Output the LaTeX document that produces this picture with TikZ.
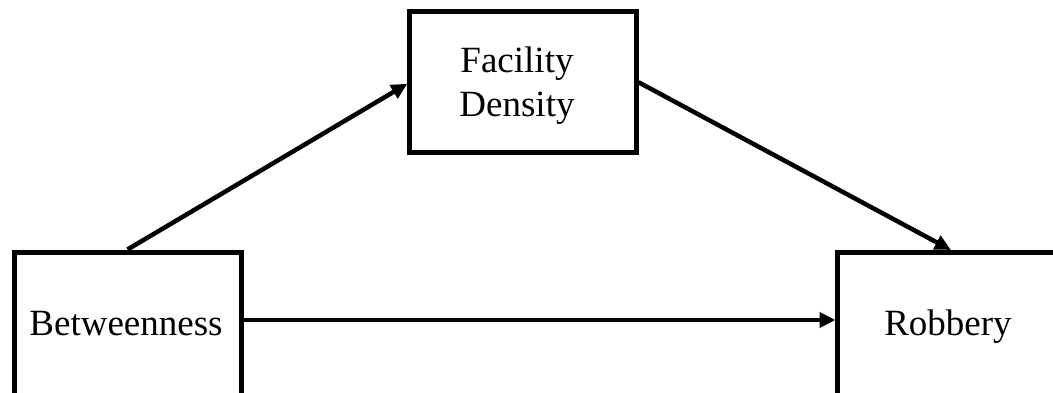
\documentclass[tikz,border=0pt]{standalone}
\usepackage{fontspec}
\setmainfont{Liberation Serif}
\usetikzlibrary{arrows.meta}
\begin{document}
\begin{tikzpicture}[x=1pt,y=-1pt,
  box/.style={draw, line width=5pt, inner sep=0pt},
  lbl/.style={font=\fontsize{37}{44}\selectfont, align=center, inner sep=0pt},
  conn/.style={line width=4.5pt, -{Triangle[length=16pt,width=15pt]}, shorten >=-1pt}]
\useasboundingbox (0,0) rectangle (1053,393);
\node[box, minimum width=227pt, minimum height=143pt] (b) at (127.5,323.5) {};
\node[box, minimum width=227pt, minimum height=141.5pt] (f) at (522.5,82.25) {};
\node[box, minimum width=226pt, minimum height=143pt] (r) at (950,323.5) {};
\node[lbl, anchor=base] (bt) at (126,335) {Betweenness};
\node[lbl, anchor=base] (ft) at (517,117) {Facility\\Density};
\node[lbl, anchor=base] (rt) at (948,335) {Robbery};
\draw[conn] (b.north) -- ([yshift=-2pt]f.west);
\draw[conn] (f.east) -- (r.north);
\draw[conn] ([yshift=3.5pt]b.east) -- ([yshift=3.5pt]r.west);
\end{tikzpicture}
\end{document}
